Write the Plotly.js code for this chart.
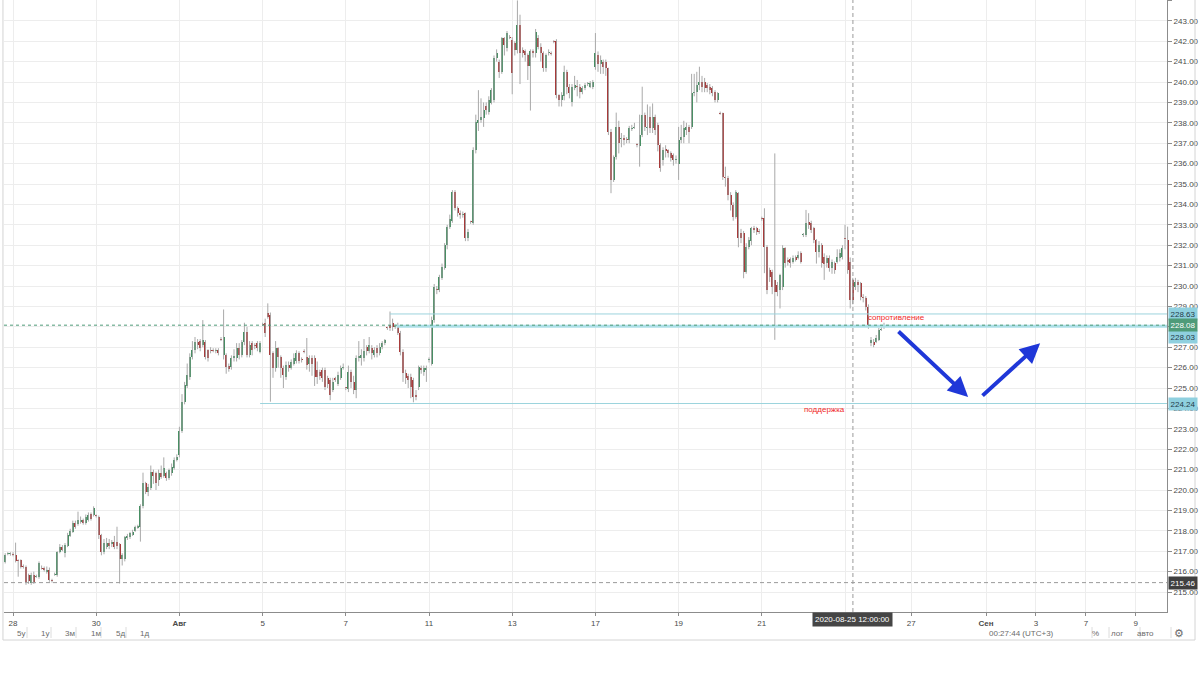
<!DOCTYPE html>
<html><head><meta charset="utf-8">
<script src="https://cdn.plot.ly/plotly-3.0.1.min.js"></script>
<style>html,body{margin:0;padding:0;background:#fff;} #chart{width:1200px;height:675px;}</style>
</head><body><div id="chart"></div>
<script>
// hourly-like bars, 16 per trading day; first 3 bars belong to 27 Jul
const barsPerDay = 16;
const leadBars = 3;

const open = [
216.49,216.86,216.85,
216.87,216.82,216.53,216.55,216.27,216.25,215.85,215.45,215.85,215.75,215.75,216.2,216.2,216.0,216.08,215.6,
215.85,215.85,216.97,217.22,216.9,217.25,217.75,217.95,218.37,218.33,218.43,218.53,218.4,218.53,218.82,218.77,
218.75,218.7,217.8,216.95,217.22,217.42,217.35,217.47,217.45,217.35,216.6,216.6,217.63,217.68,217.8,218.0,
218.12,218.17,219.2,220.33,219.92,220.08,220.9,220.82,220.49,220.82,220.7,220.82,220.6,220.82,221.06,221.47,
221.7,222.9,224.3,225.1,225.55,226.5,226.86,227.27,227.3,227.1,227.27,226.86,226.86,226.85,226.8,226.86,
227.4,226.6,226.6,226.1,226.05,226.45,226.45,226.95,226.62,227.27,227.76,226.62,227.2,227.1,227.2,226.78,
228.15,228.17,228.7,228.6,226.7,225.96,226.94,226.53,225.96,225.55,226.12,226.0,226.2,226.3,226.7,226.37,
226.8,226.53,226.2,226.45,226.45,225.88,225.8,225.88,225.88,225.47,225.39,224.9,225.47,225.22,225.47,225.96,
225.0,224.93,225.8,225.3,224.9,226.45,226.45,226.45,227.0,226.8,226.95,226.62,226.95,226.7,227.0,227.2,
227.95,228.08,228.17,228.0,227.97,227.7,226.78,225.72,225.6,225.55,225.4,224.65,225.06,226.0,225.8,225.88,
226.35,226.2,228.33,229.85,229.8,230.38,230.87,232.0,232.9,233.2,234.6,233.8,233.6,233.5,233.56,232.34,
233.15,233.1,236.67,237.98,238.14,238.22,238.8,238.55,238.95,239.12,241.16,241.0,240.5,242.14,241.65,242.2,
242.06,241.9,241.57,242.8,241.57,241.5,241.3,240.8,241.5,241.4,242.14,241.73,241.4,240.67,241.4,241.4,
242.0,242.0,239.36,239.12,239.3,240.5,239.77,239.04,239.69,239.8,239.77,239.53,239.69,239.9,239.77,239.74,
240.75,241.3,240.9,241.0,241.0,240.67,237.57,235.2,236.34,237.81,237.2,237.25,237.2,237.16,237.7,237.75,
236.92,236.86,237.4,238.38,237.73,238.3,237.73,238.3,237.9,236.92,236.18,236.72,236.67,236.5,236.42,236.2,
236.0,237.16,237.32,237.65,237.81,237.81,239.45,239.53,239.85,240.02,240.02,239.85,239.77,239.69,239.53,239.12,
238.47,238.47,235.36,235.28,234.46,233.97,233.4,234.54,232.58,232.58,230.7,231.93,232.2,232.83,232.83,232.7,
233.32,233.32,231.93,230.8,230.7,230.3,230.05,229.81,229.97,231.85,231.28,231.31,231.2,231.44,231.36,231.6,
232.5,232.5,233.16,233.08,232.83,232.26,231.69,232.01,231.44,231.11,231.36,230.87,231.11,231.2,231.36,231.44,
232.3,232.26,231.2,230.3,229.97,230.22,230.14,229.48,229.4,228.99,227.2,227.28,227.28,227.36,227.85,228.0
];
const high = [
216.9,216.95,216.95,
216.95,217.42,216.6,216.6,216.35,216.3,215.9,215.95,216.0,215.85,216.5,216.3,216.25,216.25,216.2,215.65,
215.95,217.0,217.35,217.3,217.4,217.9,218.1,218.5,218.5,218.94,218.7,218.6,218.8,218.9,218.9,219.2,
218.8,218.75,217.85,217.6,217.65,217.6,217.55,217.75,218.2,217.4,216.9,217.75,217.85,217.95,218.05,218.25,
218.3,219.3,220.85,220.4,220.3,221.2,221.0,220.9,221.0,221.2,221.6,220.9,221.05,221.3,221.6,221.75,
223.1,224.7,225.3,226.2,226.7,227.3,227.5,227.4,227.4,228.33,227.35,226.9,227.0,226.95,226.95,226.95,
227.5,228.85,226.7,226.2,226.6,226.9,227.2,227.2,227.35,228.2,228.0,227.3,227.3,227.2,227.3,227.3,
228.2,228.4,229.15,228.7,226.8,227.3,227.0,226.6,226.1,226.3,226.3,226.4,226.7,226.85,226.8,226.5,
226.9,227.45,226.6,226.6,226.6,226.3,225.9,226.0,226.0,225.6,225.5,225.5,225.55,225.8,226.1,226.2,
225.05,226.1,225.9,225.6,226.6,227.3,226.9,227.4,227.1,227.5,227.1,227.0,227.1,227.2,227.3,227.4,
228.0,228.75,228.4,228.1,228.2,227.8,226.9,225.9,225.7,225.7,225.5,224.9,226.1,226.1,226.1,226.1,
226.5,228.5,230.1,230.0,230.55,231.1,232.1,233.0,233.5,234.7,234.7,233.9,233.7,233.65,233.6,232.8,
233.2,236.8,238.4,239.6,239.2,239.0,239.0,239.3,239.7,241.3,241.6,241.1,242.2,242.2,242.5,242.3,
242.2,242.0,244.0,243.3,241.7,241.6,241.4,241.6,241.6,242.6,242.3,241.9,241.5,241.4,241.6,241.5,
242.05,242.1,239.4,239.5,240.8,240.6,239.9,239.9,240.3,240.1,239.9,239.8,239.95,240.0,240.05,240.1,
242.4,241.5,241.3,241.1,241.1,240.7,237.7,236.4,238.5,238.1,237.5,237.4,237.3,237.85,237.9,238.0,
237.0,238.4,239.77,238.5,238.9,238.8,238.95,238.4,238.0,237.0,236.8,236.9,236.7,236.6,236.5,236.4,
237.8,237.9,238.1,238.0,237.9,240.4,240.4,240.5,240.75,240.3,240.2,239.95,239.9,239.8,239.6,239.5,
238.55,238.5,235.85,235.4,234.6,234.1,234.7,234.6,232.8,232.7,232.1,232.4,232.9,232.95,232.9,232.8,
233.4,233.81,232.0,230.9,230.8,236.5,230.2,230.6,232.0,231.9,231.4,231.4,231.5,231.5,231.7,231.7,
232.6,233.73,233.57,233.2,232.9,232.3,232.2,232.1,231.6,231.5,231.5,231.3,231.2,231.8,231.8,232.0,
233.0,232.91,231.4,230.4,230.4,230.3,230.2,229.6,229.5,229.1,227.5,227.4,227.6,227.95,228.0,228.2
];
const low = [
216.4,216.8,216.78,
216.75,216.45,215.75,216.15,216.15,215.35,215.4,215.35,215.4,215.7,215.65,216.1,216.0,215.9,215.5,215.46,
215.8,215.75,216.9,217.0,216.7,217.2,217.7,217.9,218.1,218.25,218.35,218.3,218.3,218.45,218.5,218.7,
218.65,217.6,216.8,216.85,217.1,217.1,217.2,217.1,217.1,215.42,216.3,216.5,217.55,217.6,217.75,217.95,
218.1,217.47,219.1,219.8,219.7,220.0,220.3,220.0,220.2,220.55,220.6,220.45,220.5,220.7,221.0,221.4,
221.6,222.8,224.2,225.0,225.4,226.4,226.7,226.9,226.8,227.0,226.4,226.3,226.7,226.75,226.7,226.6,
227.3,226.4,225.7,225.8,225.9,226.3,226.3,226.4,226.5,227.1,226.5,226.5,226.6,226.9,226.8,226.7,
228.05,227.5,228.4,224.33,225.5,225.8,226.0,225.5,225.0,225.4,225.8,225.9,226.1,226.2,226.2,226.25,
226.7,225.9,225.8,225.6,225.1,225.2,225.4,225.3,224.9,225.0,224.4,224.8,225.3,225.1,225.4,225.9,
224.9,224.8,225.0,224.7,224.5,226.3,226.1,226.3,226.6,226.7,226.4,226.5,226.5,226.6,226.9,227.1,
227.85,227.8,227.8,227.9,227.6,226.6,225.3,225.2,225.0,224.5,224.3,224.4,224.9,225.7,225.6,225.3,
226.25,226.1,228.2,229.6,229.7,230.3,230.8,231.8,232.8,233.1,233.7,233.4,233.3,233.35,232.2,232.2,
233.05,233.0,236.5,237.6,238.0,237.8,238.4,238.4,238.9,239.0,241.0,240.2,240.4,241.3,241.5,242.1,
239.4,241.3,241.4,239.9,241.2,241.0,240.1,238.6,241.2,241.2,241.6,241.0,240.5,240.5,241.3,241.3,
241.9,239.2,238.8,238.8,239.1,239.4,239.2,238.8,239.6,239.3,239.2,239.4,239.6,239.8,239.7,239.65,
240.6,240.5,240.4,240.4,240.3,237.4,234.55,235.1,236.2,236.5,236.8,236.9,237.0,237.0,237.6,237.7,
236.8,235.85,237.3,237.6,237.4,237.5,237.5,237.4,236.6,235.6,235.9,236.3,236.3,236.1,235.9,236.0,
235.2,237.0,237.0,237.4,237.0,237.7,239.3,239.0,239.6,239.5,239.5,239.5,239.4,239.3,239.0,239.0,
238.4,235.2,234.87,234.2,233.7,233.2,233.3,231.9,232.1,230.38,230.6,231.8,232.0,232.6,232.5,232.55,
233.2,230.63,229.6,230.2,229.6,227.36,229.5,228.9,229.8,230.9,231.0,230.9,231.1,231.2,231.3,231.1,
232.4,232.4,232.8,232.6,232.1,231.1,231.4,230.9,230.3,230.9,230.7,230.6,230.6,231.1,231.2,231.3,
231.8,230.6,228.9,229.1,229.8,229.7,229.3,229.2,228.8,227.9,227.05,227.0,227.2,227.3,227.8,227.9
];
const close = [
216.82,216.9,216.88,
216.83,216.53,216.5,216.25,216.22,215.5,215.55,215.85,215.5,215.8,216.4,216.15,216.1,216.1,215.6,215.52,
215.88,216.95,217.22,217.06,217.3,217.8,218.0,218.37,218.2,218.53,218.53,218.4,218.7,218.77,218.6,219.1,
218.72,217.8,216.97,217.38,217.42,217.25,217.47,217.22,217.25,216.62,216.8,217.68,217.76,217.87,217.96,218.17,
218.23,219.2,220.33,219.92,220.16,220.9,220.7,220.33,220.82,220.62,221.1,220.57,220.98,221.14,221.47,221.63,
222.9,224.3,225.15,225.65,226.5,226.86,227.27,227.1,226.95,227.35,226.53,226.45,226.8,226.82,226.85,226.7,
227.35,227.5,226.05,225.95,226.45,226.55,226.95,226.62,227.27,227.76,226.62,227.1,226.86,227.05,226.95,227.19,
228.1,227.68,228.5,226.6,225.96,226.94,226.53,225.96,225.63,226.12,225.96,226.29,226.45,226.7,226.3,226.35,
226.78,226.12,226.45,226.2,225.55,225.55,225.6,225.47,225.06,225.22,224.65,225.3,225.4,225.63,225.96,226.0,
224.98,225.8,225.3,224.9,226.45,226.55,226.62,226.8,226.8,227.1,226.7,226.86,226.7,227.0,227.2,227.35,
227.92,227.92,228.0,228.02,227.7,226.78,225.72,225.47,225.4,225.06,224.57,224.55,226.04,225.88,225.96,226.0,
226.4,228.33,229.97,229.8,230.46,230.95,232.0,232.9,233.3,234.6,233.8,233.56,233.5,233.55,232.34,232.66,
233.12,236.67,238.05,238.14,238.3,238.63,238.63,239.12,239.6,241.16,241.4,240.5,242.14,241.8,242.4,242.15,
240.43,241.57,242.8,241.4,241.4,241.3,240.8,241.5,241.4,242.47,241.73,241.4,240.67,241.32,241.42,241.38,
241.98,239.36,239.12,239.36,240.5,239.77,239.45,239.77,239.85,239.74,239.53,239.69,239.85,239.93,239.93,240.02,
241.4,240.9,241.1,240.75,240.67,237.57,235.2,236.34,237.81,237.0,237.25,237.16,237.18,237.73,237.73,237.81,
236.9,237.4,238.38,237.81,237.81,237.73,238.3,237.65,236.92,235.77,236.67,236.6,236.5,236.26,236.18,236.25,
237.16,237.32,237.73,237.81,237.57,239.45,239.53,239.85,240.02,239.77,239.69,239.69,239.6,239.45,239.12,239.45,
238.45,235.36,235.28,234.46,233.97,233.4,234.63,232.34,232.34,230.7,231.93,232.26,232.83,232.75,232.67,232.65,
233.3,231.93,229.81,230.46,229.97,229.72,229.72,230.54,231.85,231.11,231.2,231.11,231.36,231.28,231.52,231.2,
232.5,233.08,232.99,232.75,232.26,231.69,232.01,231.11,231.08,231.36,230.87,231.2,230.79,231.44,231.6,231.85,
232.29,230.79,229.32,229.32,230.22,230.05,229.48,229.4,228.99,228.09,227.36,227.11,227.44,227.85,227.9,228.08
];

// x-axis ticks (trading-day units, 28 Jul = 0); future dates extend beyond the data
const tickPos  = [0, 2, 4, 6, 8, 10, 12, 14, 16, 18, 20, 21.59, 23.39, 24.59, 25.79, 26.99];
const tickText = ['28','30','<b>Авг</b>','5','7','11','13','17','19','21','','27','<b>Сен</b>','3','7','9'];
// y-axis ticks (228.00 is hidden under the price tags)
const yTicks = [215,216,217,218,219,220,221,222,223,224,225,226,227,228,229,230,231,232,233,234,235,236,237,238,239,240,241,242,243,244];
const yHidden = [228];

// drawn levels
const resistanceHigh = 228.63;
const resistanceLow  = 228.03;
const lastPrice      = 228.08;
const supportLevel   = 224.24;
const crossPrice     = 215.46;
const crossTimeLabel = '2020-08-25 12:00:00';
const crossX         = 20.19;

const UP = '#3d8c5c', DOWN = '#a83030', WICK = '#a9a9a9';
const FONT = "'Liberation Sans', Arial, sans-serif";

const xs = close.map((_, i) => (i - leadBars) / barsPerDay);
const wx = [], wy = [];
xs.forEach((x, i) => { wx.push(x, x, null); wy.push(low[i], high[i], null); });
const base = open.map((o, i) => Math.min(o, close[i]));
const hgt  = open.map((o, i) => Math.max(Math.abs(close[i] - o), 0.05));
const cols = open.map((o, i) => close[i] >= o ? UP : DOWN);

const traces = [
  {type:'scatter', mode:'lines', x:wx, y:wy, line:{color:WICK, width:1}, hoverinfo:'skip', connectgaps:false},
  {type:'bar', x:xs, y:hgt, base:base, width:0.75/barsPerDay, marker:{color:cols, line:{width:0}}, hoverinfo:'skip'}
];

const XMIN = -0.2163, XMAX = 27.74;
const PY = v => 1 - v / 612; // pixel row below plot top -> paper y

const shapes = [
  {type:'line', xref:'x', yref:'y', x0:9.06, x1:XMAX, y0:resistanceHigh, y1:resistanceHigh, line:{color:'#9cd4dd', width:1}},
  {type:'line', xref:'x', yref:'y', x0:9.22, x1:XMAX, y0:resistanceLow, y1:resistanceLow, line:{color:'#acdfe7', width:3}},
  {type:'line', xref:'x', yref:'y', x0:5.94, x1:XMAX, y0:supportLevel, y1:supportLevel, line:{color:'#9cd4dd', width:1}},
  {type:'line', xref:'paper', yref:'y', x0:0, x1:1, y0:lastPrice, y1:lastPrice, line:{color:'#4f9b79', width:1, dash:'dot'}},
  {type:'line', xref:'x', yref:'paper', x0:crossX, x1:crossX, y0:0, y1:1, line:{color:'#9a9a9a', width:1, dash:'4px,3px'}},
  {type:'line', xref:'paper', yref:'y', x0:0, x1:1, y0:crossPrice, y1:crossPrice, line:{color:'#9a9a9a', width:1, dash:'4px,3px'}},
  {type:'line', xref:'paper', yref:'paper', x0:-0.0009, x1:-0.0009, y0:1, y1:PY(640), line:{color:'#d4d4d4', width:1}},
  {type:'line', xref:'paper', yref:'paper', x0:1.0241, x1:1.0241, y0:1, y1:PY(640), line:{color:'#d4d4d4', width:1}},
  {type:'line', xref:'paper', yref:'paper', x0:-0.0009, x1:1.0241, y0:PY(640), y1:PY(640), line:{color:'#d4d4d4', width:1}}
];
[27, 51, 76, 101, 126, 1092, 1109, 1140, 1171].forEach(px => {
  const xp = (px - 4) / 1163;
  shapes.push({type:'line', xref:'paper', yref:'paper', x0:xp, x1:xp, y0:PY(627), y1:PY(638), line:{color:'#dcdcdc', width:1}});
});

const ann = [];
function priceTag(v, bg, fg, shift) {
  ann.push({xref:'paper', yref:'y', x:1, y:v, xanchor:'left', yanchor:'middle', xshift:1, yshift:shift || 0,
    text:v.toFixed(2), showarrow:false, bgcolor:bg, borderpad:1.5, font:{family:FONT, size:8, color:fg}});
}
priceTag(resistanceHigh, '#8fd0df', '#1f3b48', 0);
priceTag(resistanceLow, '#8fd0df', '#1f3b48', -11);
priceTag(lastPrice, '#4f9b79', '#ffffff', 0);
priceTag(supportLevel, '#8fd0df', '#1f3b48', 0);
priceTag(crossPrice, '#3f3f3f', '#ffffff', 0);

ann.push({xref:'x', yref:'paper', x:crossX, y:PY(619), yanchor:'middle', text:crossTimeLabel, showarrow:false,
  bgcolor:'#454545', borderpad:2, font:{family:FONT, size:8, color:'#ffffff'}});

ann.push({xref:'x', yref:'y', x:21.23, y:228.47, yanchor:'middle', text:'сопротивление', showarrow:false, font:{family:FONT, size:8, color:'#f02a2a'}});
ann.push({xref:'x', yref:'y', x:19.5, y:223.95, yanchor:'middle', text:'поддержка', showarrow:false, font:{family:FONT, size:8, color:'#f02a2a'}});

ann.push({xref:'x', yref:'y', axref:'x', ayref:'y', x:22.96, y:224.56, ax:21.25, ay:227.84, text:'', showarrow:true,
  arrowhead:2, arrowsize:1, arrowwidth:4, arrowcolor:'#1f37d8', standoff:0});
ann.push({xref:'x', yref:'y', axref:'x', ayref:'y', x:24.69, y:227.2, ax:23.27, ay:224.56, text:'', showarrow:true,
  arrowhead:2, arrowsize:1, arrowwidth:4, arrowcolor:'#1f37d8', standoff:0});

const toolLeft = [['5у',15],['1у',39],['3м',63],['1м',89],['5д',114],['1д',138]];
toolLeft.forEach(([t, px]) => ann.push({xref:'paper', yref:'paper', x:(px-4)/1163, y:PY(633), yanchor:'middle', text:t,
  showarrow:false, font:{family:FONT, size:8, color:'#6b6b6b'}}));
const toolRight = [['00:27:44 (UTC+3)',1056],['%',1101],['лог',1125],['авто',1156],['⚙',1186]];
toolRight.forEach(([t, px]) => ann.push({xref:'paper', yref:'paper', x:(px-4)/1163, y:PY(633), yanchor:'middle', text:t,
  showarrow:false, font:{family:FONT, size:t === '⚙' ? 11 : 8, color:'#6b6b6b'}}));

const layout = {
  width:1200, height:675,
  margin:{l:4, r:33, t:0, b:63, pad:0},
  paper_bgcolor:'#ffffff', plot_bgcolor:'#ffffff',
  showlegend:false, hovermode:false, bargap:0,
  xaxis:{range:[XMIN, XMAX], tickmode:'array', tickvals:tickPos, ticktext:tickText, showgrid:true, gridcolor:'#ededed',
    gridwidth:1, zeroline:false, showline:true, linecolor:'#8c8c8c', ticks:'outside', ticklen:3, tickcolor:'#8c8c8c',
    tickfont:{family:FONT, size:8, color:'#4a4a4a'}, fixedrange:true},
  yaxis:{side:'right', range:[214.02, 244.02], tickmode:'array', tickvals:yTicks,
    ticktext:yTicks.map(v => yHidden.includes(v) ? '' : v.toFixed(2)), showgrid:true,
    gridcolor:'#ededed', gridwidth:1, zeroline:false, showline:true, linecolor:'#8c8c8c', ticks:'outside', ticklen:4,
    tickcolor:'#8c8c8c', tickfont:{family:FONT, size:8, color:'#4a4a4a'}, fixedrange:true},
  shapes:shapes, annotations:ann
};

Plotly.newPlot('chart', traces, layout, {displayModeBar:false, staticPlot:true});
</script>
</body></html>
